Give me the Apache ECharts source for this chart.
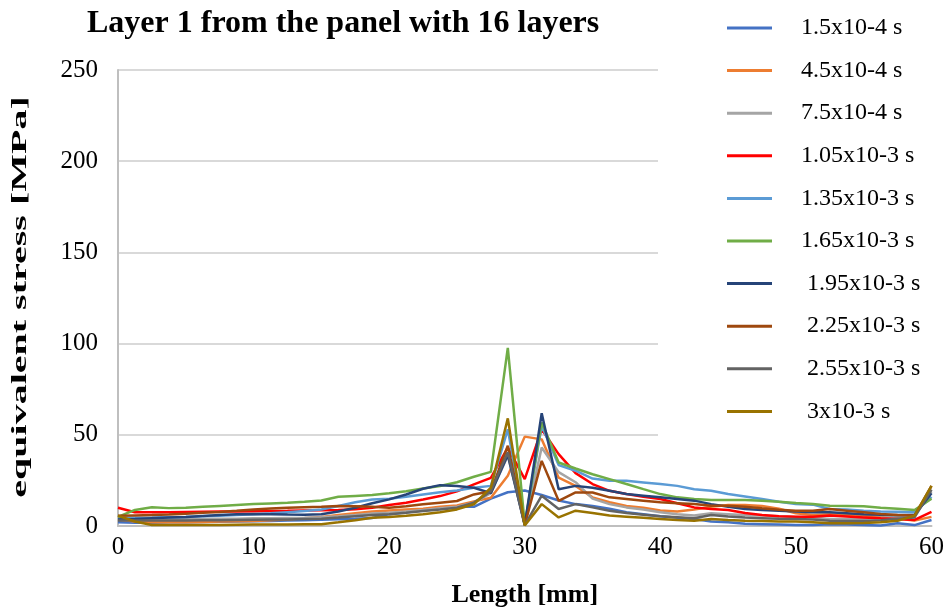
<!DOCTYPE html>
<html>
<head>
<meta charset="utf-8">
<script src="https://cdn.jsdelivr.net/npm/echarts@6/dist/echarts.min.js"></script>
<style>
  html, body { margin: 0; padding: 0; background: #fff; }
  #chart { width: 947px; height: 613px; }
</style>
</head>
<body>
<div id="chart"></div>
<script>
const lengths = [0, 1.25, 2.5, 3.75, 5, 6.25, 7.5, 8.75, 10, 11.25, 12.5, 13.75, 15, 16.25, 17.5, 18.75,
  20, 21.25, 22.5, 23.75, 25, 26.25, 27.5, 28.75, 30, 31.25, 32.5, 33.75, 35, 36.25, 37.5, 38.75,
  40, 41.25, 42.5, 43.75, 45, 46.25, 47.5, 48.75, 50, 51.25, 52.5, 53.75, 55, 56.25, 57.5, 58.75, 60];

const s1 = [2, 1.8, 1.8, 2, 2, 2.2, 2.3, 2.5, 2.6, 2.8, 3, 3.2, 3.4, 3.7, 4, 4.4,
  6.5, 7.5, 8.5, 9.5, 10.5, 10.5, 15, 18.5, 19.5, 17, 14, 12, 11, 9.5, 7.5, 6.5,
  5.3, 4.5, 3.8, 2.5, 2, 1.2, 1, 0.8, 0.6, 0.5, 1, 0.8, 0.5, 0.3, 1.5, 0.5, 3.3];
const s2 = [3.5, 2.5, 2, 2, 2, 2.2, 2.4, 2.6, 2.8, 3.2, 3.6, 4.2, 5, 6, 7, 8,
  8.5, 9, 9.5, 10.5, 11.3, 13.5, 15.5, 27.5, 49, 47.5, 26.5, 22, 15.7, 13, 11, 10,
  8.5, 8, 9, 10.5, 11.5, 11.5, 11, 9.5, 7, 6, 6.5, 6, 5.7, 5, 4, 3, 5];
const s3 = [4, 3.5, 3.5, 3.6, 3.7, 3.8, 4, 4, 4.2, 4.3, 4.4, 4.5, 4.8, 5.3, 6, 6.8,
  7.3, 8, 8.8, 9.7, 10.6, 12.8, 18, 38.5, 1, 43, 29.5, 24, 15, 12, 10.2, 9,
  7.5, 6.5, 5.8, 7, 6.5, 6, 5.7, 5.3, 5, 4.7, 3.8, 3.8, 4, 4.5, 5, 5.7, 19];
const s4 = [10, 7.5, 7.5, 7.6, 7.7, 7.8, 7.9, 8, 8.1, 8.2, 8.3, 8.5, 8.6, 8.8, 9.2, 10,
  11.5, 12.8, 14.5, 16.4, 19, 22.8, 26.4, 43, 25.7, 53, 39.4, 29, 23, 19.3, 17.5, 16,
  14.8, 12.5, 10.2, 9.3, 8.8, 7.1, 6, 5.3, 5.1, 5.1, 5.7, 5.2, 4.7, 4.2, 3.8, 3.3, 7.8];
const s5 = [4.4, 4.5, 4.6, 4.8, 5, 5.3, 5.6, 6, 6.5, 7, 7.6, 8.2, 9, 11, 13, 14.5,
  15, 16, 17.3, 18.5, 19.5, 21, 22, 53, 0.5, 55, 33.4, 30.3, 26, 24.8, 24.8, 23.9,
  23, 22, 20.2, 19.3, 17.5, 16.2, 14.8, 13.3, 12, 11.7, 9.3, 9, 8.4, 8, 7.8, 7.5, 16];
const s6 = [5, 8.8, 10.3, 9.8, 10, 10.5, 11, 11.5, 12, 12.4, 12.8, 13.3, 14, 16, 16.5, 17,
  17.9, 19, 20.5, 21.9, 24, 27, 29.7, 97.7, 1, 56.7, 34.8, 31.5, 28.4, 25.7, 23, 20.2,
  17.5, 15.7, 14.8, 14.2, 14.2, 14.2, 13.9, 13.3, 12.6, 12, 11.1, 11, 10.8, 10, 9.5, 8.8, 15];
const s7 = [3.5, 3.8, 4.2, 4.6, 5, 5.5, 6, 6.4, 6.6, 6.5, 6.3, 6.2, 6.5, 8, 10, 12.5,
  14.6, 17.3, 20.4, 22.4, 21.9, 21, 18, 39, 0.5, 61.8, 20.2, 22, 21, 19.3, 17.5, 16.6,
  15.7, 14.8, 13.9, 12, 10.5, 9.3, 8.8, 8.4, 8, 7.5, 7.5, 7, 6.5, 6.2, 6, 6, 18];
const s8 = [5.6, 5.8, 6, 6.3, 6.7, 7.2, 7.7, 8.3, 9, 9.6, 10, 10.3, 10.6, 11, 10.8, 10.5,
  10, 10.8, 11.9, 12.8, 13.7, 17.3, 19, 44, 0.5, 35.7, 13.8, 18.4, 18.4, 15.7, 14.8, 13.9,
  13, 12.5, 12, 11.1, 11.1, 10.6, 9.7, 8.9, 8.4, 8.4, 9.3, 8.4, 7.5, 6.6, 6, 5.7, 22];
const s9 = [3, 3, 3, 3, 3, 3.1, 3.2, 3.3, 3.4, 3.5, 3.6, 3.8, 4, 4.6, 5.3, 6,
  6.4, 7.2, 8.2, 9, 10, 12.8, 19, 40.4, 0.5, 16.6, 9.3, 12, 10.2, 8.4, 7.1, 6.2,
  5.3, 4.8, 4.2, 6, 5.2, 4.6, 4.3, 4, 3.8, 3.6, 2.9, 2.8, 2.8, 3.2, 4, 4.7, 20];
const s10 = [5.6, 2.5, 0.5, 0.5, 0.5, 0.5, 0.6, 0.7, 0.8, 0.8, 0.8, 0.9, 1, 2, 3.2, 4.5,
  5, 5.6, 6.4, 7.5, 9.1, 11.9, 21, 59, 0.3, 12, 4.7, 8.4, 7.1, 5.7, 5.1, 4.5,
  3.8, 3.3, 2.9, 3.8, 3.3, 2.9, 2.7, 2.5, 2.4, 2, 1.5, 1.5, 1.6, 2, 2.9, 5.7, 22];

const seriesNames = ['1.5x10-4 s', '4.5x10-4 s', '7.5x10-4 s', '1.05x10-3 s', '1.35x10-3 s',
  '1.65x10-3 s', ' 1.95x10-3 s', ' 2.25x10-3 s', ' 2.55x10-3 s', ' 3x10-3 s'];
const seriesValues = [s1, s2, s3, s4, s5, s6, s7, s8, s9, s10];
const colors = ['#4472C4', '#ED7D31', '#A5A5A5', '#FF0000', '#5B9BD5',
  '#70AD47', '#264478', '#9E480E', '#636363', '#997300'];

const font = 'Liberation Serif';
const chart = echarts.init(document.getElementById('chart'));

const option = {
  animation: false,
  backgroundColor: '#fff',
  title: {
    text: 'Layer 1 from the panel with 16 layers',
    left: 82,
    top: 3,
    textStyle: { fontFamily: font, fontSize: 32, fontWeight: 'bold', color: '#000' }
  },
  legend: {
    orient: 'vertical',
    left: 658,
    top: 0,
    padding: [16, 20, 20, 69],
    backgroundColor: '#fff',
    icon: 'rect',
    itemWidth: 45,
    itemHeight: 3,
    itemGap: 18.6,
    data: seriesNames,
    textStyle: {
      fontFamily: font, fontSize: 24, color: '#000',
      lineHeight: 22, height: 22, padding: [0, 0, 0, 24]
    }
  },
  grid: { left: 118, right: 15, top: 70, bottom: 86 },
  xAxis: {
    type: 'value',
    min: 0,
    max: 60,
    interval: 10,
    name: 'Length [mm]',
    nameLocation: 'middle',
    nameGap: 56,
    nameTextStyle: { fontFamily: font, fontSize: 26, fontWeight: 'bold', color: '#000' },
    axisLine: { lineStyle: { color: '#BFBFBF', width: 2 } },
    axisTick: { show: false },
    splitLine: { show: false },
    axisLabel: { fontFamily: font, fontSize: 25, color: '#000', margin: 9 }
  },
  yAxis: {
    type: 'value',
    min: 0,
    max: 250,
    interval: 50,
    axisLine: { show: true, lineStyle: { color: '#BFBFBF', width: 2 } },
    axisTick: { show: false },
    splitLine: { lineStyle: { color: '#D9D9D9', width: 2 } },
    axisLabel: { fontFamily: font, fontSize: 25, color: '#000', margin: 20 }
  },
  // y axis title is drawn stretched along its length, as in the source figure
  graphic: [{
    type: 'text',
    x: 21,
    y: 297,
    rotation: Math.PI / 2,
    scaleX: 2.0,
    style: {
      text: 'equivalent stress [MPa]',
      font: 'bold 20px "Liberation Serif"',
      fill: '#000',
      textAlign: 'center',
      textVerticalAlign: 'middle'
    }
  }],
  series: seriesValues.map((vals, k) => ({
    name: seriesNames[k],
    type: 'line',
    data: vals.map((v, i) => [lengths[i], v]),
    showSymbol: false,
    lineStyle: { color: colors[k], width: 2.5 },
    itemStyle: { color: colors[k] }
  }))
};

chart.setOption(option);
</script>
</body>
</html>
